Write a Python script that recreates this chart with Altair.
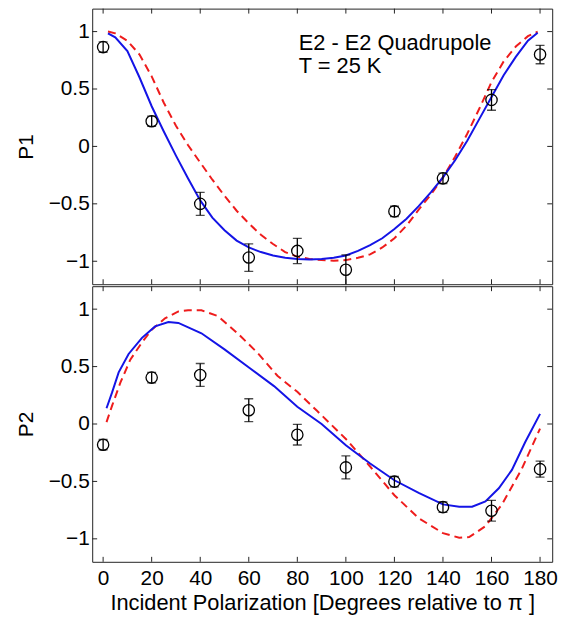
import altair as alt
import pandas as pd

# ---------------- data ----------------
angles = [0, 20, 40, 60, 80, 100, 120, 140, 160, 180]
y_ticks = [-1, -0.5, 0, 0.5, 1]

p1_meas = [0.865, 0.219, -0.50, -0.968, -0.91, -1.074, -0.566, -0.278, 0.405, 0.80]
p1_err = [0.045, 0.045, 0.10, 0.12, 0.11, 0.13, 0.045, 0.045, 0.09, 0.08]
p2_meas = [-0.18, 0.404, 0.427, 0.12, -0.093, -0.378, -0.502, -0.724, -0.755, -0.393]
p2_err = [0.045, 0.045, 0.10, 0.10, 0.09, 0.10, 0.045, 0.045, 0.09, 0.07]

p1_blue_x = [2, 5, 10, 15, 20, 25, 30, 35, 40, 45, 50, 55, 60, 65, 70, 75, 80, 85, 90,
             95, 100, 105, 110, 115, 120, 125, 130, 135, 140, 145, 150, 155, 160, 165,
             170, 175, 179]
p1_blue_y = [0.985, 0.95, 0.83, 0.60, 0.35, 0.13, -0.08, -0.28, -0.47, -0.62, -0.73,
             -0.82, -0.88, -0.92, -0.95, -0.97, -0.98, -0.985, -0.98, -0.97, -0.95,
             -0.91, -0.86, -0.80, -0.72, -0.63, -0.52, -0.40, -0.27, -0.12, 0.05, 0.24,
             0.43, 0.62, 0.78, 0.92, 0.99]
p1_red_x = p1_blue_x
p1_red_y = [1.0, 0.985, 0.92, 0.80, 0.61, 0.38, 0.18, 0.01, -0.14, -0.29, -0.43, -0.56,
            -0.67, -0.77, -0.85, -0.92, -0.96, -0.98, -0.99, -0.995, -0.99, -0.97, -0.94,
            -0.88, -0.80, -0.69, -0.55, -0.42, -0.27, -0.09, 0.11, 0.33, 0.56, 0.74,
            0.87, 0.96, 1.0]

p2_blue_x = [1.4, 3.7, 6.4, 10.5, 16, 21.4, 26.9, 31, 40.5, 50, 60.2, 70.4, 80, 90, 100,
             110, 120, 130, 140, 146.7, 152, 157.5, 163, 168.4, 173.9, 180]
p2_blue_y = [0.137, 0.275, 0.45, 0.61, 0.75, 0.85, 0.888, 0.88, 0.79, 0.65, 0.49, 0.33,
             0.15, 0.0, -0.185, -0.344, -0.49, -0.60, -0.70, -0.72, -0.72, -0.675, -0.56,
             -0.40, -0.157, 0.088]
p2_red_x = [1.4, 3.7, 7.1, 11.2, 16, 20, 25.5, 31, 35, 40.5, 47.3, 55.4, 63.6, 71.8, 80,
            88, 100, 110, 120, 130, 140, 146.7, 150.8, 157.5, 164.3, 172.5, 180]
p2_red_y = [0.016, 0.16, 0.36, 0.56, 0.71, 0.82, 0.92, 0.98, 0.99, 0.99, 0.94, 0.79, 0.62,
            0.42, 0.28, 0.117, -0.13, -0.37, -0.62, -0.82, -0.95, -0.99, -0.985, -0.89,
            -0.70, -0.39, -0.04]

annotation_lines = ["E2 - E2 Quadrupole", "T = 25 K"]

# ---------------- styling ----------------
FONT = "Liberation Sans"
W, H = 464, 278
TL = 5  # tick length (inward)
BLUE = "#1414e6"
RED = "#ee1c1c"
XS = alt.Scale(domain=[-4.5, 185], nice=False, zero=False)
YS = alt.Scale(domain=[-1.2, 1.2], nice=False, zero=False)


def panel(meas, err, bx, by, rx, ry, ytitle, show_x, annotate):
    pts = pd.DataFrame({"angle": angles, "val": meas,
                        "lo": [m - e for m, e in zip(meas, err)],
                        "hi": [m + e for m, e in zip(meas, err)]})
    blue = pd.DataFrame({"angle": bx, "val": by})
    red = pd.DataFrame({"angle": rx, "val": ry})
    xt = pd.DataFrame({"angle": angles})
    yt = pd.DataFrame({"val": y_ticks})
    one = pd.DataFrame({"k": [0]})

    if show_x:
        xaxis = alt.Axis(values=angles, format="d", ticks=False, domain=False, grid=False,
                         title="Incident Polarization [Degrees relative to π ]",
                         labelPadding=6, titlePadding=4, titleFontSize=22)
    else:
        xaxis = None
    yaxis = alt.Axis(values=y_ticks, format="~g", ticks=False, domain=False, grid=False,
                     title=ytitle, labelPadding=3, titlePadding=12)

    X = alt.X("angle:Q", scale=XS, axis=xaxis)
    Y = lambda f: alt.Y(f, scale=YS, axis=yaxis)

    red_line = alt.Chart(red).mark_line(color=RED, strokeWidth=2, strokeDash=[8, 5],
                                        clip=True).encode(x=X, y=Y("val:Q"))
    blue_line = alt.Chart(blue).mark_line(color=BLUE, strokeWidth=2, clip=True).encode(
        x=X, y=Y("val:Q"))
    bars = alt.Chart(pts).mark_rule(color="black", strokeWidth=1.3, clip=True).encode(
        x=X, y=Y("lo:Q"), y2="hi:Q")
    cap_lo = alt.Chart(pts).mark_tick(orient="horizontal", size=9, thickness=1.3,
                                      color="black", clip=True).encode(x=X, y=Y("lo:Q"))
    cap_hi = alt.Chart(pts).mark_tick(orient="horizontal", size=9, thickness=1.3,
                                      color="black", clip=True).encode(x=X, y=Y("hi:Q"))
    circles = alt.Chart(pts).mark_point(shape="circle", filled=False, size=130,
                                        color="black", strokeWidth=1.3,
                                        opacity=1).encode(x=X, y=Y("val:Q"))

    tick_style = dict(color="#222", strokeWidth=1)
    xt_bot = alt.Chart(xt).mark_rule(**tick_style).encode(
        x=X, y=alt.value(H), y2=alt.value(H - TL))
    xt_top = alt.Chart(xt).mark_rule(**tick_style).encode(
        x=X, y=alt.value(0), y2=alt.value(TL))
    yt_left = alt.Chart(yt).mark_rule(**tick_style).encode(
        y=Y("val:Q"), x=alt.value(0), x2=alt.value(TL))
    yt_right = alt.Chart(yt).mark_rule(**tick_style).encode(
        y=Y("val:Q"), x=alt.value(W), x2=alt.value(W - TL))

    layers = [red_line, blue_line, bars, cap_lo, cap_hi, circles,
              xt_bot, xt_top, yt_left, yt_right]
    if annotate:
        for line, yv in zip(annotation_lines, [0.842, 0.64]):
            layers.append(
                alt.Chart(one).mark_text(align="left", baseline="alphabetic", fontSize=22,
                                         font=FONT, color="black").encode(
                    x=alt.XDatum(80.6, scale=XS, axis=xaxis),
                    y=alt.YDatum(yv, scale=YS, axis=yaxis),
                    text=alt.value(line)))
    return alt.layer(*layers).properties(width=W, height=H)


top = panel(p1_meas, p1_err, p1_blue_x, p1_blue_y, p1_red_x, p1_red_y, "P1", False, True)
bottom = panel(p2_meas, p2_err, p2_blue_x, p2_blue_y, p2_red_x, p2_red_y, "P2", True, False)

chart = alt.vconcat(top, bottom, spacing=0).properties(
    padding={"left": 15, "top": 5, "right": 17, "bottom": 2},
    background="white",
).configure_view(stroke="#222", strokeWidth=1).configure_axis(
    labelFont=FONT, titleFont=FONT, labelFontSize=21, titleFontSize=21,
    titleFontWeight="normal", labelColor="black", titleColor="black")

chart.save("out.html", embed_options={"renderer": "svg", "actions": False})
